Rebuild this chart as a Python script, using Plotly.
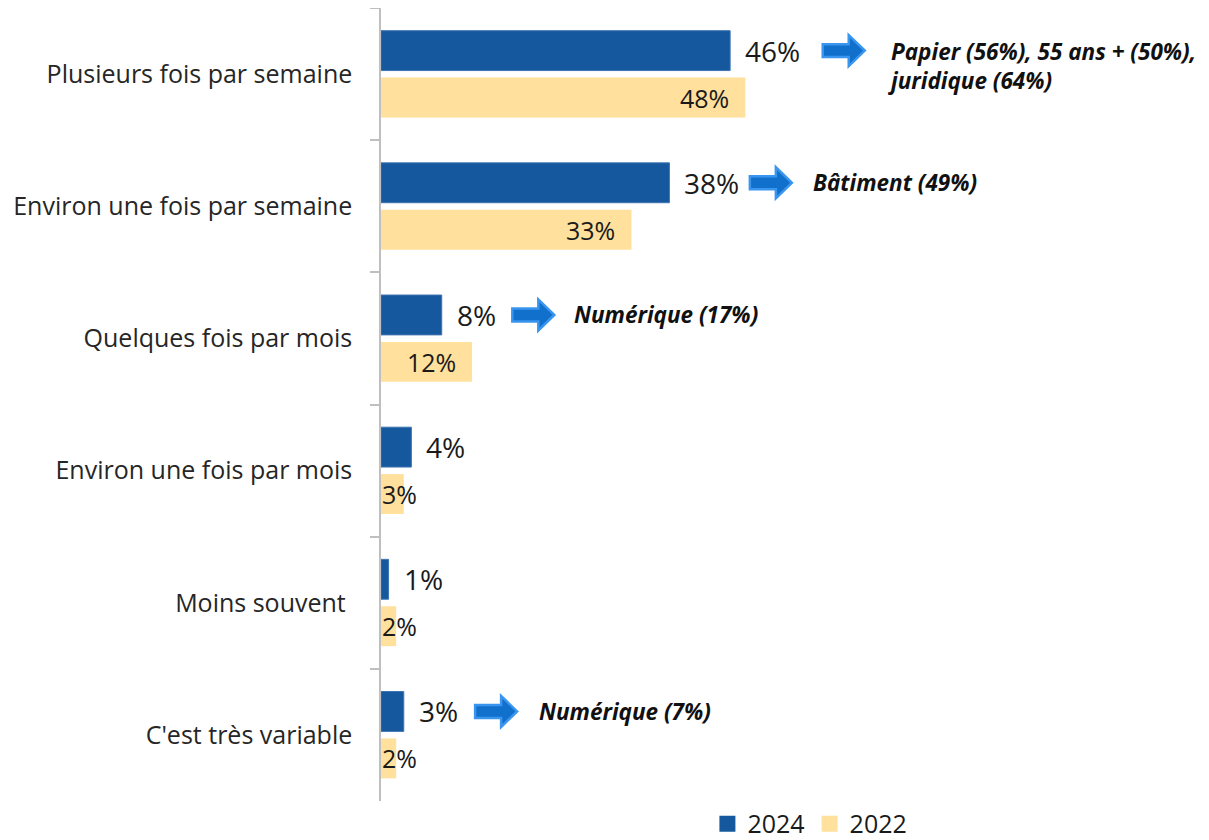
import plotly.graph_objects as go

categories = ["Plusieurs fois par semaine", "Environ une fois par semaine", "Quelques fois par mois",
              "Environ une fois par mois", "Moins souvent\u00a0", "C'est très variable"]
values_2024 = [46, 38, 8, 4, 1, 3]
values_2022 = [48, 33, 12, 3, 2, 2]
series_names = ["2024", "2022"]
callout_rows = [0, 1, 2, 5]
callout_texts = ["Papier (56%), 55 ans + (50%),<br>juridique (64%)", "Bâtiment (49%)",
                 "Numérique (17%)", "Numérique (7%)"]
arrow_x = [58.2, 48.6, 17.3, 12.4]
callout_x = [66.5, 56.6, 25.1, 20.6]

C24 = "#15589E"
C22 = "#FFE09C"
FONT = "Open Sans"

PX_X = 7.59      # px per % on x
PX_Y = 132.2     # px per category on y
BARGAP = 0.29
BARGROUPGAP = 0.15
off = (1 - BARGAP) / 4  # center offset of each bar from category center

fig = go.Figure()
fig.add_trace(go.Bar(y=categories, x=values_2024, orientation="h", marker=dict(color=C24, line=dict(color="#3f74b3", width=1)),
                     name=series_names[0], showlegend=False, hoverinfo="skip"))
fig.add_trace(go.Bar(y=categories, x=values_2022, orientation="h", marker=dict(color=C22, line=dict(width=0)),
                     name=series_names[1], showlegend=False, hoverinfo="skip"))
# legend proxies
for nm, col in zip(series_names, [C24, C22]):
    fig.add_trace(go.Scatter(x=[None], y=[None], mode="markers", name=nm,
                             marker=dict(symbol="square", size=18, color=col)))

annotations = []
for i, v in enumerate(values_2024):
    annotations.append(dict(x=v, y=i - off, xref="x", yref="y", text=f"{v}%", showarrow=False,
                            xanchor="left", yanchor="middle", xshift=13,
                            font=dict(family=FONT, size=28, color="#1a1a1a")))
for i, v in enumerate(values_2022):
    if v * PX_X > 60:
        annotations.append(dict(x=v, y=i + off, xref="x", yref="y", text=f"{v}%", showarrow=False,
                                xanchor="right", yanchor="middle", xshift=-14,
                                font=dict(family=FONT, size=25, color="#1a1a1a")))
    else:
        annotations.append(dict(x=0, y=i + off, xref="x", yref="y", text=f"{v}%", showarrow=False,
                                xanchor="left", yanchor="middle", xshift=-1,
                                font=dict(family=FONT, size=25, color="#1a1a1a")))

shapes = []
for r, ax, cx, txt in zip(callout_rows, arrow_x, callout_x, callout_texts):
    yc = r - off
    bl, hl = 26 / PX_X, 42 / PX_X
    bh, hh = 6.5 / PX_Y, 15.5 / PX_Y
    path = (f"M{ax},{yc-bh} L{ax+bl},{yc-bh} L{ax+bl},{yc-hh} L{ax+hl},{yc} "
            f"L{ax+bl},{yc+hh} L{ax+bl},{yc+bh} L{ax},{yc+bh} Z")
    shapes.append(dict(type="path", path=path, xref="x", yref="y", fillcolor="#1070CC",
                       line=dict(color="#3A95EE", width=2.5)))
    annotations.append(dict(x=cx, y=yc + (0.12 if "<br>" in txt else 0), xref="x", yref="y", text=f"<b><i>{txt}</i></b>",
                            showarrow=False, xanchor="left", yanchor="middle", align="left",
                            font=dict(family=FONT, size=22.5, color="#111111")))

# page body has an 8px default margin: the figure is sized/offset to compensate
fig.update_layout(
    width=1201, height=832,
    margin=dict(l=373, r=0, t=0, b=39, autoexpand=False),
    paper_bgcolor="white", plot_bgcolor="white",
    barmode="group", bargap=BARGAP, bargroupgap=BARGROUPGAP,
    xaxis=dict(range=[0, 828 / PX_X], visible=False, fixedrange=True, automargin=False),
    yaxis=dict(type="category", autorange="reversed", showline=True, linecolor="#BFBFBF", linewidth=1.5,
               ticks="outside", tickson="boundaries", ticklen=9, tickcolor="#BFBFBF", tickwidth=1.5,
               ticklabelstandoff=22, automargin=False,
               tickfont=dict(family=FONT, size=25, color="#262626"), showgrid=False, zeroline=False),
    legend=dict(orientation="h", x=0.518, xanchor="center", y=-0.029, yanchor="middle",
                font=dict(family=FONT, size=25, color="#1a1a1a"), itemwidth=30,
                bgcolor="rgba(0,0,0,0)"),
    shapes=shapes, annotations=annotations,
)

fig.write_html("out.html")
